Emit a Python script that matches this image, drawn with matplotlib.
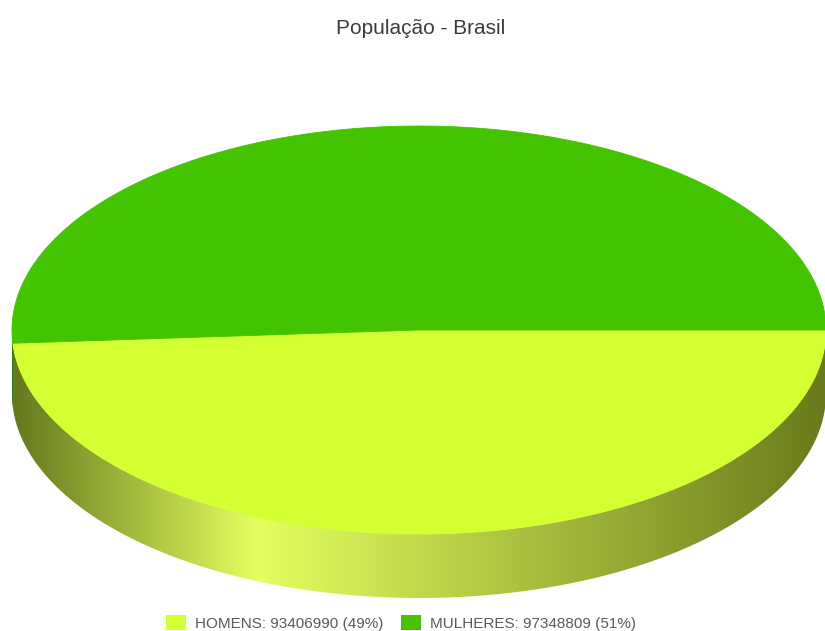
import numpy as np
import matplotlib
matplotlib.use("Agg")
import matplotlib.pyplot as plt
from matplotlib.patches import Polygon, Patch

plt.rcParams['font.family'] = ['Liberation Sans', 'DejaVu Sans']

# data
labels = ['HOMENS', 'MULHERES']
values = [93406990, 97348809]
colors = ['#d4ff33', '#44c400']
title = 'População - Brasil'

# geometry of the 3d pie, in pixels
W, H = 825, 631
cx, cy = 419, 330
rx, ry = 407, 204
depth = 64

fig = plt.figure(figsize=(W / 100, H / 100), dpi=100)
ax = fig.add_axes([0, 0, 1, 1])
ax.set_xlim(0, W)
ax.set_ylim(H, 0)
ax.axis('off')

def arc(t0, t1, dy=0, n=200):
    t = np.radians(np.linspace(t0, t1, n))
    return np.column_stack([cx + rx * np.cos(t), cy + dy + ry * np.sin(t)])

# side wall (front half only), gradient fill clipped to the wall shape
top = arc(0, 180)
bot = arc(180, 0, dy=depth)
wall = np.vstack([top, bot])
clip = Polygon(wall, closed=True, facecolor='none', edgecolor='none')
ax.add_patch(clip)

xs = np.arange(W)
stops_x = [0, cx - rx, 257, cx + rx, W]
stops_c = np.array([[100, 120, 28], [100, 120, 28], [228, 255, 95],
                    [105, 122, 28], [105, 122, 28]]) / 255.0
grad = np.column_stack([np.interp(xs, stops_x, stops_c[:, k]) for k in range(3)])
img = ax.imshow(grad[None, :, :], extent=[0, W, cy + ry + depth + 2, cy - 2],
                aspect='auto', interpolation='bilinear', zorder=1)
img.set_clip_path(clip)

# small dark-green part of the wall for the second slice (left edge)
fracs = np.array(values) / sum(values)
ang = np.concatenate([[0], np.cumsum(fracs) * 360])
if ang[1] < 180:
    seg = np.vstack([arc(ang[1], 180, n=30), arc(180, ang[1], dy=depth, n=30)])
    ax.add_patch(Polygon(seg, closed=True, facecolor='#2f7d00', edgecolor='none', zorder=2))

# top face
for i in range(len(values)):
    pts = np.vstack([[cx, cy], arc(ang[i], ang[i + 1])])
    ax.add_patch(Polygon(pts, closed=True, facecolor=colors[i], edgecolor=colors[i],
                         linewidth=0.6, zorder=3))

ax.text(421, 28, title, ha='center', va='center', fontsize=15, color='#3c3c3c')

pct = [round(f * 100) for f in fracs]
handles = [Patch(facecolor=c, edgecolor='none') for c in colors]
names = [f'{l}: {v} ({p}%)' for l, v, p in zip(labels, values, pct)]
leg = ax.legend(handles, names, loc='center', bbox_to_anchor=(401 / W, 1 - 623 / H),
                ncol=2, frameon=False, fontsize=11, handlelength=1.35, handleheight=1.15,
                handletextpad=0.6, columnspacing=1.1)
for t in leg.get_texts():
    t.set_color('#5a5a5a')

fig.savefig('out.png', dpi=100)
